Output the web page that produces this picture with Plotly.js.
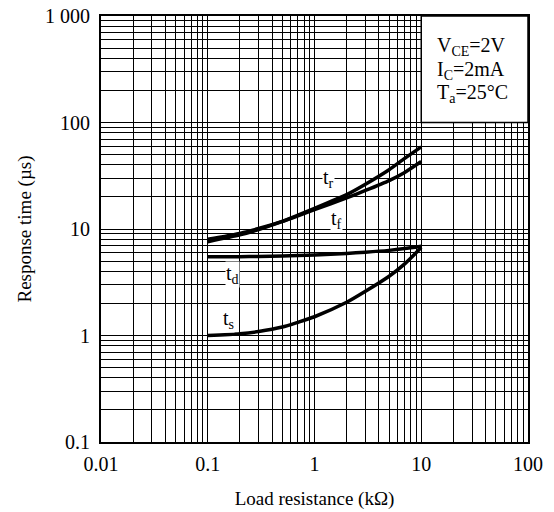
<!DOCTYPE html>
<html>
<head>
<meta charset="utf-8">
<script src="https://cdn.plot.ly/plotly-3.0.1.min.js"></script>
<style>html,body{margin:0;padding:0;background:#fff;}#chart{width:554px;height:512px;}</style>
</head>
<body>
<div id="chart"></div>
<script>
// Load resistance (kΩ)
const loadR = [0.1, 0.2, 0.3, 0.5, 0.7, 1, 2, 3, 5, 7, 10];
// Response times (µs)
const tr = [7.6, 8.8, 9.9, 11.8, 13.5, 15.6, 21.0, 26.3, 36.0, 46.0, 59.0];
const tf = [8.0, 9.1, 10.1, 11.8, 13.3, 15.2, 19.6, 23.0, 28.5, 34.0, 43.0];
const td = [5.5, 5.5, 5.52, 5.58, 5.64, 5.7, 5.9, 6.05, 6.3, 6.55, 6.9];
const ts = [1.0, 1.04, 1.09, 1.2, 1.33, 1.5, 2.05, 2.6, 3.6, 4.7, 6.7];

const xTickVals = [0.01, 0.1, 1, 10, 100];
const xTickText = ['0.01', '0.1', '1', '10', '100'];
const yTickVals = [0.1, 1, 10, 100, 1000];
const yTickText = ['0.1', '1', '10', '100', '1 000'];

const FONT = 'Liberation Serif, Times New Roman, serif';
const lineStyle = {color: '#000', width: 3.5, shape: 'spline', smoothing: 0.6};

const traces = [tr, tf, td, ts].map(v => ({
  x: loadR, y: v, type: 'scatter', mode: 'lines', line: lineStyle,
  hoverinfo: 'skip', showlegend: false
}));

const axisCommon = {
  type: 'log',
  showline: true, linecolor: '#000', linewidth: 2, mirror: true,
  showgrid: true, gridcolor: '#000', gridwidth: 1,
  ticks: '', zeroline: false,
  tickfont: {family: FONT, size: 20, color: '#000'},
  minor: {dtick: 'D1', showgrid: true, gridcolor: '#000', gridwidth: 1, ticks: ''}
};

const lab = (txt, x, y) => ({
  text: txt, x: Math.log10(x), y: Math.log10(y), xref: 'x', yref: 'y',
  showarrow: false, bgcolor: '#fff', borderpad: 0,
  font: {family: FONT, size: 20, color: '#000'}
});
const box = (txt, y) => ({
  text: txt, x: 0.783, y: y, xref: 'paper', yref: 'paper',
  xanchor: 'left', yanchor: 'middle', showarrow: false,
  font: {family: FONT, size: 20, color: '#000'}
});

const layout = {
  width: 554, height: 512,
  margin: {l: 101, r: 26, t: 16, b: 70},
  paper_bgcolor: '#fff', plot_bgcolor: '#fff',
  showlegend: false,
  xaxis: Object.assign({}, axisCommon, {
    range: [-2, 2], tickvals: xTickVals, ticktext: xTickText,
    ticklabelstandoff: 3,
    title: {text: 'Load resistance (kΩ)', font: {family: FONT, size: 19, color: '#000'}, standoff: 18}
  }),
  yaxis: Object.assign({}, axisCommon, {
    range: [-1, 3], tickvals: yTickVals, ticktext: yTickText,
    ticklabelstandoff: 5,
    title: {text: 'Response time (µs)', font: {family: FONT, size: 19, color: '#000'}, standoff: 8}
  }),
  shapes: [{
    type: 'rect', xref: 'paper', yref: 'paper', x0: 0.75, x1: 1, y0: 0.75, y1: 1,
    fillcolor: '#fff', line: {color: '#000', width: 1.5}, layer: 'above'
  }],
  annotations: [
    lab('t<sub>r</sub>', 1.35, 29.5),
    lab('t<sub>f</sub>', 1.6, 12.2),
    lab('t<sub>d</sub>', 0.172, 3.7),
    lab('t<sub>s</sub>', 0.155, 1.4),
    box('V<sub>CE</sub>=2V', 0.928),
    box('I<sub>C</sub>=2mA', 0.872),
    box('T<sub>a</sub>=25°C', 0.818)
  ]
};

Plotly.newPlot('chart', traces, layout, {staticPlot: true, displayModeBar: false});
</script>
</body>
</html>
